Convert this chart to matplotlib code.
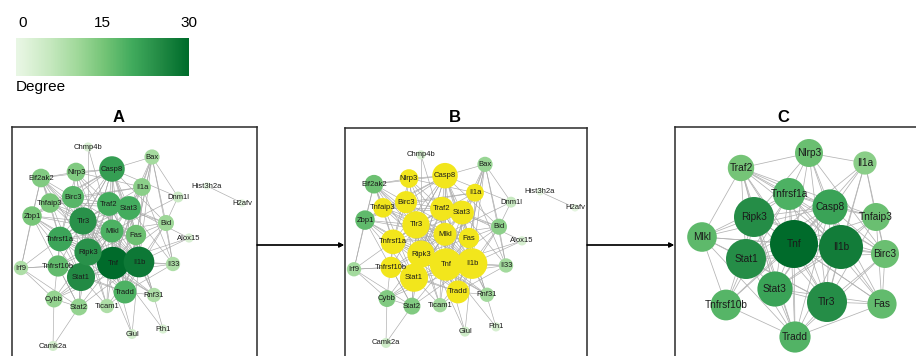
import matplotlib.pyplot as plt
import matplotlib.transforms as mtransforms
import numpy as np
from matplotlib.collections import LineCollection
from matplotlib.colors import ListedColormap, Normalize

plt.rcParams["font.family"] = ["Liberation Sans", "DejaVu Sans"]

W, H = 916, 356

# full PPI network: node names, degree and layout (px inside the panel frame)
genes = ["Tnf", "Il1b", "Stat1", "Ripk3", "Tlr3", "Casp8", "Tnfrsf1a", "Stat3",
         "Traf2", "Mlkl", "Tradd", "Birc3", "Tnfrsf10b", "Fas", "Nlrp3", "Tnfaip3",
         "Il1a", "Eif2ak2", "Zbp1", "Bid", "Bax", "Stat2", "Cybb", "Il33", "Irf9",
         "Rnf31", "Ticam1", "Dnm1l", "Alox15", "Glul", "Fth1", "Camk2a", "Chmp4b",
         "Hist3h2a", "H2afv"]
degree = [30, 28, 25, 24, 24, 22, 21, 20,
          20, 19, 19, 18, 17, 16, 14, 15,
          13, 14, 15, 11, 10, 12, 12, 9, 9,
          9, 9, 5, 3, 4, 3, 4, 3,
          1, 1]
layout_x = [101, 127, 69, 76, 71, 100, 48, 117,
            97, 100, 113, 61, 46, 124, 64, 38,
            130, 29, 20, 154, 140, 67, 42, 161, 9,
            142, 95, 166, 177, 120, 151, 41, 76,
            195, 230]
layout_y = [136, 135, 150, 125, 94, 42, 112, 81,
            77, 104, 165, 70, 139, 108, 45, 76,
            60, 51, 89, 96, 30, 180, 172, 137, 141,
            168, 179, 70, 111, 207, 202, 219, 20,
            59, 76]

# hub sub-network
core_genes = ["Tnf", "Il1b", "Ripk3", "Stat1", "Tlr3", "Casp8", "Tnfrsf1a", "Stat3",
              "Traf2", "Mlkl", "Tradd", "Birc3", "Fas", "Tnfaip3", "Tnfrsf10b",
              "Nlrp3", "Il1a"]
core_degree = [16, 15, 14, 14, 14, 12.8, 12, 12.8,
               10.6, 11.4, 11.8, 11, 11.3, 11, 11.7,
               11, 9.8]
core_x = [119, 166, 79, 71, 152, 155, 114, 100,
          66, 27, 120, 210, 207, 201, 51,
          134, 190]
core_y = [117, 120, 90, 132, 175, 80, 67, 162,
          41, 110, 210, 127, 177, 90, 178,
          26, 36]

links = [
    "Tnf Il1b Stat1 Ripk3 Tlr3 Casp8 Stat3 Tnfrsf1a Traf2 Mlkl Tradd Birc3 Tnfrsf10b Fas Nlrp3 Tnfaip3 Il1a",
    "Il1b Stat1 Ripk3 Tlr3 Casp8 Stat3 Tnfrsf1a Traf2 Mlkl Tradd Birc3 Fas Nlrp3 Tnfaip3 Il1a",
    "Stat1 Ripk3 Tlr3 Casp8 Stat3 Tnfrsf1a Traf2 Mlkl Tradd Tnfrsf10b Birc3 Il1a",
    "Ripk3 Tlr3 Casp8 Stat3 Tnfrsf1a Traf2 Mlkl Tradd Birc3 Tnfrsf10b Fas Nlrp3",
    "Tlr3 Casp8 Stat3 Tnfrsf1a Traf2 Mlkl Tradd Birc3 Nlrp3 Tnfaip3 Il1a Fas",
    "Casp8 Stat3 Tnfrsf1a Traf2 Mlkl Tradd Birc3 Tnfrsf10b Fas Nlrp3 Tnfaip3",
    "Stat3 Tnfrsf1a Traf2 Tnfaip3 Il1a Fas Tradd",
    "Tnfrsf1a Traf2 Mlkl Tradd Birc3 Tnfrsf10b Fas Tnfaip3 Nlrp3",
    "Traf2 Tradd Birc3 Tnfaip3 Mlkl Nlrp3",
    "Mlkl Tradd Tnfrsf10b",
    "Tradd Tnfrsf10b Fas Birc3",
    "Birc3 Tnfaip3 Nlrp3 Fas Il1a",
    "Nlrp3 Il1a",
    "Tnfaip3 Il1a Fas",
    "Eif2ak2 Nlrp3 Casp8 Birc3 Tnfaip3 Zbp1 Tlr3 Tnfrsf1a Stat1 Tnf Il1b Ripk3 Irf9",
    "Zbp1 Tnfaip3 Tlr3 Ripk3 Tnfrsf1a Irf9 Stat1 Tnf Mlkl Casp8 Birc3 Stat2",
    "Bax Casp8 Il1a Bid Dnm1l Stat3 Fas Tnf Il1b Il33 Tradd",
    "Bid Casp8 Fas Tnf Il1b Traf2 Stat3 Tradd Il33 Dnm1l Mlkl",
    "Stat2 Stat1 Irf9 Cybb Tnf Tlr3 Il1b Tnfrsf10b Ripk3 Camk2a",
    "Cybb Stat1 Tnf Irf9 Tnfrsf1a Il1b Ripk3 Camk2a",
    "Il33 Il1b Tnf Il1a Stat3 Tradd Stat1",
    "Irf9 Tnfrsf10b Tnf Tlr3",
    "Rnf31 Tnf Tradd Il1b Ripk3 Traf2 Tnfrsf1a Casp8",
    "Ticam1 Tlr3 Tnf Ripk3 Il1b Stat1 Tradd Traf2",
    "Dnm1l Casp8 Mlkl",
    "Alox15 Tnf Il1b Stat3",
    "Glul Tnf Tlr3 Il1b",
    "Fth1 Tnf Stat3",
    "Chmp4b Mlkl Ripk3",
    "Hist3h2a H2afv",
]

degree_ticks = [0, 15, 30]

greens = ListedColormap(plt.get_cmap("Greens")(np.linspace(0.1, 0.88, 256)))
YELLOW = "#f2e61c"


def edge_pairs():
    pairs = set()
    for row in links:
        src, *nbrs = row.split()
        for n in nbrs:
            pairs.add(tuple(sorted((src, n))))
    return sorted(pairs)


def px_axes(fig, left, top, width, height, yscale=1.0, yshift=0.0):
    ax = fig.add_axes([left / W, 1 - (top + height) / H, width / W, height / H])
    ax.set_xlim(0, width)
    ax.set_ylim((height - yshift) / yscale, -yshift / yscale)
    ax.set_xticks([])
    ax.set_yticks([])
    for s in ax.spines.values():
        s.set_linewidth(1.1)
        s.set_color("#2a2a2a")
    return ax


def draw_network(ax, names, xs, ys, degs, colors, radius, fontsize, edge_color, edge_lw):
    pos = {n: (x, y) for n, x, y in zip(names, xs, ys)}
    segs = [[pos[a], pos[b]] for a, b in edge_pairs() if a in pos and b in pos]
    ax.add_collection(LineCollection(segs, colors=edge_color, linewidths=edge_lw, zorder=1))
    r = np.array([radius(d) for d in degs])
    ax.scatter(xs, ys, s=(1.44 * r) ** 2, c=colors, linewidths=0, zorder=2)
    for n, x, y in zip(names, xs, ys):
        ax.text(x, y, n, ha="center", va="center", fontsize=fontsize,
                color="#1a1a1a", zorder=3)


fig = plt.figure(figsize=(W / 100, H / 100), dpi=100)

# colour scale legend
cax = fig.add_axes([16 / W, 1 - 76 / H, 173 / W, 38 / H])
cax.imshow(np.linspace(0, 30, 256)[None, :], cmap=greens, aspect="auto",
           extent=(0, 30, 0, 1))
cax.set_xticks(degree_ticks)
cax.set_xticklabels([str(t) for t in degree_ticks], fontsize=11)
cax.xaxis.tick_top()
cax.tick_params(axis="x", length=0, pad=6)
cax.set_yticks([])
for s in cax.spines.values():
    s.set_visible(False)
first = cax.get_xticklabels()[0]
first.set_transform(first.get_transform()
                    + mtransforms.ScaledTranslation(0.07, 0, fig.dpi_scale_trans))
fig.text(16 / W, 1 - 87 / H, "Degree", fontsize=11, ha="left", va="center")

norm_a = Normalize(0, 30)
norm_b = Normalize(0, 26)
size_ab = lambda d: 3.3 + 0.43 * d

# A: whole network
ax_a = px_axes(fig, 12, 127, 245, 245)
draw_network(ax_a, genes, layout_x, layout_y, degree,
             [greens(norm_a(d)) for d in degree], size_ab, 5.5, "#a9a9a9", 0.45)

# B: hub genes highlighted
ax_b = px_axes(fig, 345, 128, 242, 245, yscale=0.945, yshift=8)
colors_b = [YELLOW if g in core_genes else greens(norm_b(d)) for g, d in zip(genes, degree)]
draw_network(ax_b, genes, layout_x, layout_y, degree, colors_b, size_ab, 5.5,
             "#a9a9a9", 0.45)

# C: hub sub-network
ax_c = px_axes(fig, 675, 127, 260, 245)
norm_c = Normalize(5, 16)
draw_network(ax_c, core_genes, core_x, core_y, core_degree,
             [greens(norm_c(d)) for d in core_degree],
             lambda d: 12 + (d - 10) * 2, 7.3, "#b3b3b3", 0.55)

for label, x in [("A", 119), ("B", 455), ("C", 783)]:
    fig.text(x / W, 1 - 117 / H, label, fontsize=12, fontweight="bold",
             ha="center", va="center")

for x0, x1 in [(257, 344), (587, 674)]:
    fig.add_artist(plt.annotate(
        "", xy=(x1 / W, 1 - 245 / H), xytext=(x0 / W, 1 - 245 / H),
        xycoords="figure fraction", textcoords="figure fraction",
        arrowprops=dict(arrowstyle="-|>", color="black", lw=0.9,
                        mutation_scale=7, shrinkA=0, shrinkB=0)))

fig.savefig("out.png", dpi=100)
